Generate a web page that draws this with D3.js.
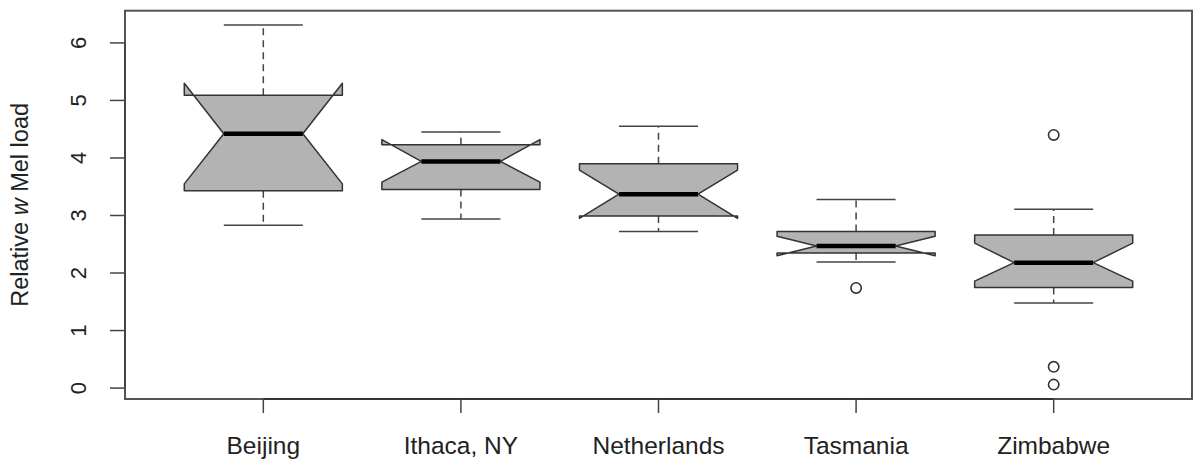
<!DOCTYPE html>
<html><head><meta charset="utf-8">
<script src="https://cdnjs.cloudflare.com/ajax/libs/d3/7.8.5/d3.min.js"></script>
<style>body{margin:0;background:#fff}svg{display:block}</style>
</head><body><svg id="c" width="1196" height="464"></svg>
<script>
const categories = ["Beijing", "Ithaca, NY", "Netherlands", "Tasmania", "Zimbabwe"];
const whiskerLow = [2.83, 2.94, 2.72, 2.19, 1.48];
const q1 = [3.43, 3.45, 2.99, 2.35, 1.75];
const median = [4.42, 3.94, 3.37, 2.47, 2.18];
const q3 = [5.09, 4.23, 3.90, 2.72, 2.66];
const whiskerHigh = [6.31, 4.45, 4.55, 3.28, 3.11];
const notchLow = [3.55, 3.58, 2.95, 2.30, 1.86];
const notchHigh = [5.30, 4.32, 3.79, 2.64, 2.52];
const outliers = [[], [], [], [1.74], [4.40, 0.37, 0.06]];
const yTicks = [0, 1, 2, 3, 4, 5, 6];

const svg = d3.select("#c");
const L = 125, R = 1192, T = 10.7, B = 399;
const allVals = whiskerLow.concat(whiskerHigh, notchLow, notchHigh, outliers.flat());
const lo = d3.min(allVals), hi = d3.max(allVals), pad = (hi - lo) * 0.04;
const y = d3.scaleLinear().domain([lo - pad, hi + pad]).range([B, T]);
const x = d3.scaleLinear().domain([0.3, categories.length + 0.7]).range([L, R]);
const unit = x(2) - x(1);
const hw = unit * 0.4;
const font = "'Liberation Sans', Arial, Helvetica, sans-serif";

// boxes
categories.forEach((c, i) => {
  const cx = x(i + 1);
  const g = svg.append("g");
  g.append("line").attr("x1", cx).attr("x2", cx).attr("y1", y(q3[i])).attr("y2", y(whiskerHigh[i]))
    .attr("stroke", "#444").attr("stroke-width", 1.5).attr("stroke-dasharray", "7,5");
  g.append("line").attr("x1", cx).attr("x2", cx).attr("y1", y(q1[i])).attr("y2", y(whiskerLow[i]))
    .attr("stroke", "#444").attr("stroke-width", 1.5).attr("stroke-dasharray", "7,5");
  [whiskerHigh[i], whiskerLow[i]].forEach(v => {
    g.append("line").attr("x1", cx - hw / 2).attr("x2", cx + hw / 2).attr("y1", y(v)).attr("y2", y(v))
      .attr("stroke", "#444").attr("stroke-width", 1.5);
  });
  const pts = [
    [cx - hw, q1[i]], [cx - hw, notchLow[i]], [cx - hw / 2, median[i]], [cx - hw, notchHigh[i]], [cx - hw, q3[i]],
    [cx + hw, q3[i]], [cx + hw, notchHigh[i]], [cx + hw / 2, median[i]], [cx + hw, notchLow[i]], [cx + hw, q1[i]]
  ].map(p => [p[0], y(p[1])]);
  g.append("polygon").attr("points", pts.map(p => p.join(",")).join(" "))
    .attr("fill", "#b3b3b3").attr("stroke", "#333").attr("stroke-width", 1.5).attr("stroke-linejoin", "round");
  g.append("line").attr("x1", cx - hw / 2).attr("x2", cx + hw / 2).attr("y1", y(median[i])).attr("y2", y(median[i]))
    .attr("stroke", "#000").attr("stroke-width", 4.5);
  outliers[i].forEach(v => {
    g.append("circle").attr("cx", cx).attr("cy", y(v)).attr("r", 5.2)
      .attr("fill", "none").attr("stroke", "#333").attr("stroke-width", 1.6);
  });
});

// plot frame
svg.append("rect").attr("x", L).attr("y", T).attr("width", R - L).attr("height", B - T)
  .attr("fill", "none").attr("stroke", "#555").attr("stroke-width", 2);

// y axis
const ya = svg.append("g");
ya.append("line").attr("x1", L).attr("x2", L).attr("y1", y(yTicks[0])).attr("y2", y(yTicks[yTicks.length - 1]))
  .attr("stroke", "#444").attr("stroke-width", 2);
yTicks.forEach(t => {
  ya.append("line").attr("x1", L - 15).attr("x2", L).attr("y1", y(t)).attr("y2", y(t))
    .attr("stroke", "#444").attr("stroke-width", 1.5);
  ya.append("text").attr("transform", `translate(86,${y(t)}) rotate(-90)`)
    .attr("text-anchor", "middle").attr("font-family", font).attr("font-size", 22).attr("fill", "#222").text(t);
});
const title = svg.append("text").attr("transform", `translate(28,${(T + B) / 2}) rotate(-90)`)
  .attr("text-anchor", "middle").attr("font-family", font).attr("font-size", 23.5).attr("fill", "#222");
title.append("tspan").text("Relative ");
title.append("tspan").attr("font-style", "italic").text("w");
title.append("tspan").text(" Mel load");

// x axis
const xa = svg.append("g");
xa.append("line").attr("x1", x(1)).attr("x2", x(categories.length)).attr("y1", B).attr("y2", B)
  .attr("stroke", "#333").attr("stroke-width", 2);
categories.forEach((c, i) => {
  xa.append("line").attr("x1", x(i + 1)).attr("x2", x(i + 1)).attr("y1", B).attr("y2", B + 14)
    .attr("stroke", "#444").attr("stroke-width", 1.5);
  xa.append("text").attr("x", x(i + 1)).attr("y", 454).attr("text-anchor", "middle")
    .attr("font-family", font).attr("font-size", 24.5).attr("fill", "#222").text(c);
});
</script></body></html>
